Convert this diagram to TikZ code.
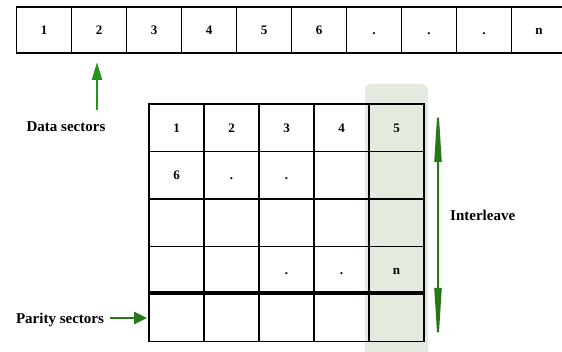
\documentclass[tikz,border=0pt]{standalone}
\usepackage{fontspec}
\setmainfont{Liberation Serif}
\usetikzlibrary{arrows.meta}
\definecolor{shadecol}{RGB}{226,235,222}
\definecolor{dgreen}{RGB}{40,120,26}
\definecolor{lgreen}{RGB}{36,150,30}
\begin{document}
\begin{tikzpicture}[x=1pt,y=-1pt,
  cellbox/.style={draw=black, line width=1.8pt, minimum width=55pt, inner sep=0pt,
    font=\fontsize{13}{15}\selectfont\bfseries, text height=9pt, text depth=0pt},
  toprow/.style={cellbox, minimum height=46pt},
  gridcell/.style={cellbox, minimum height=47.5pt},
  lbl/.style={font=\fontsize{15}{18}\selectfont\bfseries, inner sep=0pt},
  garrow/.style={line width=2.4pt}]
\useasboundingbox (0,0) rectangle (562,352);
% shaded column
\fill[shadecol, rounded corners=6pt] (365,84) rectangle (428,364);
% top row
\foreach \t [count=\i from 0] in {1,2,3,4,5,6,.,.,.,n} {
  \node[toprow] (t\i) at ({44+55*\i},30) {\t};
}
% grid
\foreach \r in {1,...,5} {
  \foreach \c in {1,...,5} {
    \node[gridcell] (g-\r-\c) at ({121.5+55*\c},{80.25+47.5*\r}) {};
  }
}
\node[cellbox, draw=none, fill=none] at (g-1-1) {1};
\node[cellbox, draw=none] at (g-1-2) {2};
\node[cellbox, draw=none] at (g-1-3) {3};
\node[cellbox, draw=none] at (g-1-4) {4};
\node[cellbox, draw=none] at (g-1-5) {5};
\node[cellbox, draw=none] at (g-2-1) {6};
\node[cellbox, draw=none] at (g-2-2) {.};
\node[cellbox, draw=none] at (g-2-3) {.};
\node[cellbox, draw=none] at (g-4-3) {.};
\node[cellbox, draw=none] at (g-4-4) {.};
\node[cellbox, draw=none] at (g-4-5) {n};
\draw[line width=3.6pt] (g-5-1.north west) -- (g-5-5.north east);
% labels
\node[lbl] (ds) at (66,127) {Data sectors};
\node[lbl, anchor=west] (il) at (450,215) {Interleave};
\node[lbl] (ps) at (60,320) {Parity sectors};
% arrows
\coordinate (dtail) at (97,110);
\coordinate (dtip) at (97,62);
\draw[garrow, lgreen, -{Triangle[length=18pt,width=10pt]}] (dtail) -- (dtip);
\coordinate (ptail) at (110,318);
\draw[garrow, dgreen, -{Triangle[length=13pt,width=12pt]}, shorten >=1pt] (ptail) -- (g-5-1.west |- ptail);
\coordinate (itop) at (438,100);
\coordinate (ibot) at (438,350);
\draw[line width=2pt, dgreen, {Triangle[length=62pt,width=7pt]}-{Triangle[length=62pt,width=7pt]}] (itop) -- (ibot);
\end{tikzpicture}
\end{document}
